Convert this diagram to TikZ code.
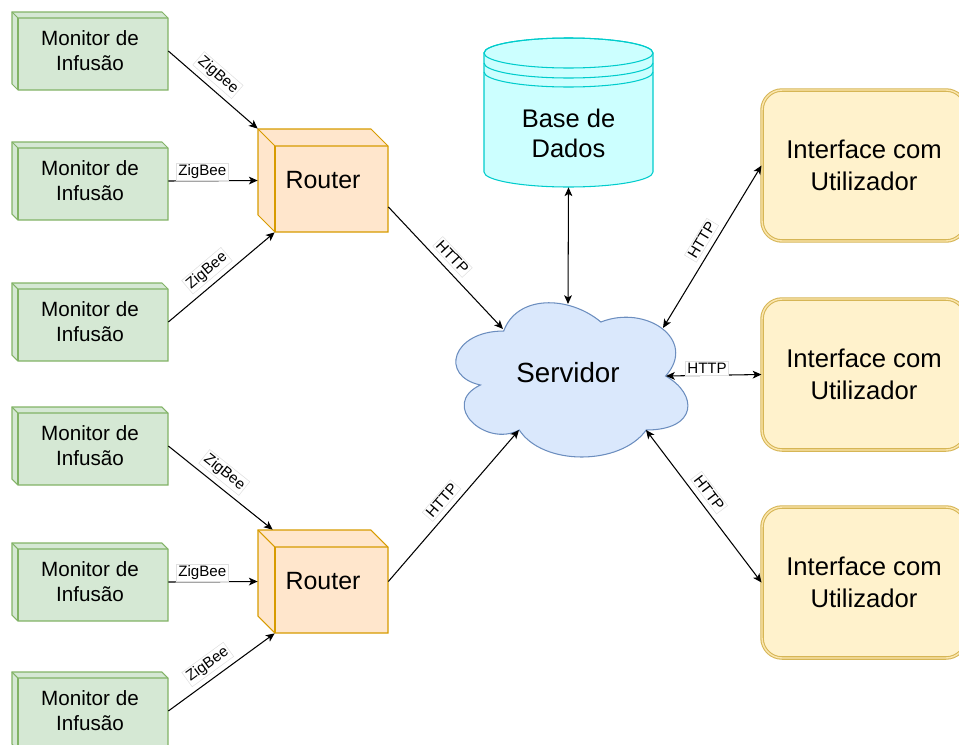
\documentclass[tikz,border=0pt]{standalone}
\usepackage{fontspec}
\setmainfont{Liberation Sans}
\usetikzlibrary{arrows.meta,calc}

\definecolor{monfill}{HTML}{D5E8D4}
\definecolor{monline}{HTML}{82B366}
\definecolor{rtfill}{HTML}{FFE6CC}
\definecolor{rtline}{HTML}{D79B00}
\definecolor{dbfill}{HTML}{CCFFFF}
\definecolor{dbline}{HTML}{00CCCC}
\definecolor{cldfill}{HTML}{DAE8FC}
\definecolor{cldline}{HTML}{6C8EBF}
\definecolor{uifill}{HTML}{FFF2CC}
\definecolor{uiline}{HTML}{D6B656}
\definecolor{uiinner}{HTML}{FBE6AE}

% 3D box: style, x1, y1, x2, y2, depth (outer corners in px)
\newcommand\boxcube[6]{%
  \draw[#1] (#2,#3) -- ({#4-#6},#3) -- (#4,{#3+#6}) -- (#4,#5) -- ({#2+#6},#5) -- (#2,{#5-#6}) -- cycle;
  \draw[#1,fill=none] (#2,#3) -- ({#2+#6},{#3+#6}) -- (#4,{#3+#6});
  \draw[#1,fill=none] ({#2+#6},{#3+#6}) -- ({#2+#6},#5);
}

\begin{document}
\begin{tikzpicture}[x=0.02cm,y=-0.02cm,
  mon/.style={fill=monfill,draw=monline,line width=0.6pt},
  rt/.style={fill=rtfill,draw=rtline,line width=0.6pt},
  montext/.style={minimum width=3.12cm,minimum height=1.56cm,inner sep=0pt,align=center,
    font=\fontsize{11.75}{14.2}\selectfont},
  rttext/.style={minimum width=2.6cm,minimum height=2.06cm,inner sep=0pt,
    font=\fontsize{14.2}{17}\selectfont},
  iface/.style={fill=uifill,draw=uiline,line width=0.6pt,double=uiinner,double distance=0.8pt,
    rounded corners=0.4cm,minimum width=4.08cm,minimum height=3.02cm,align=center,
    font=\fontsize{14.6}{18}\selectfont},
  lbl/.style={font=\fontsize{8.6}{10}\selectfont,fill=white,draw=black!12,line width=0.3pt,inner sep=1pt},
  conn/.style={-{Stealth[length=5pt,width=4.4pt,inset=1.3pt]},line width=0.6pt},
  bidir/.style={{Stealth[length=5pt,width=4.4pt,inset=1.3pt]}-{Stealth[length=5pt,width=4.4pt,inset=1.3pt]},line width=0.6pt}
]
\useasboundingbox (0,0) rectangle (959,744);

% infusion monitors
\foreach \i/\t in {1/12,2/142,3/283,4/407,5/543,6/672}{
  \boxcube{mon}{12}{\t}{168}{\t+78}{6}
  \node[montext] (m\i) at (90,\t+39) {Monitor de\\Infusão};
}

% routers
\boxcube{rt}{258}{129}{388}{232}{17}
\node[rttext] (r1) at (323,180.5) {Router};
\boxcube{rt}{258}{530}{388}{633}{17}
\node[rttext] (r2) at (323,581.5) {Router};

% database cylinder
\path[fill=dbfill,draw=dbline,line width=0.6pt] (484,53) -- (484,172)
  arc[start angle=180,end angle=0,x radius=84.5,y radius=15] -- (653,53)
  arc[start angle=0,end angle=-180,x radius=84.5,y radius=15] -- cycle;
\draw[dbline,line width=0.6pt] (568.5,53) ellipse[x radius=84.5,y radius=15];
\draw[dbline,line width=0.6pt] (484,63) arc[start angle=180,end angle=0,x radius=84.5,y radius=15];
\draw[dbline,line width=0.6pt] (484,72) arc[start angle=180,end angle=0,x radius=84.5,y radius=15];
\node[minimum width=3.38cm,minimum height=2.16cm,inner sep=0pt,align=center,
  font=\fontsize{14.5}{17}\selectfont] (db) at (568.5,133) {Base de\\Dados};

% server cloud
\draw[fill=cldfill,draw=cldline,line width=0.6pt]
  (503.75,331) .. controls (451.95,331) and (439,376) .. (480.4,385)
  .. controls (439,404.8) and (485.6,448) .. (519.3,430)
  .. controls (542.6,466) and (620.3,466) .. (646.2,430)
  .. controls (698,430) and (698,394) .. (665.6,376)
  .. controls (698,340) and (646.2,304) .. (600.9,322)
  .. controls (568.5,295) and (516.7,295) .. (503.75,331) -- cycle;
\node[font=\fontsize{15.8}{19}\selectfont] (srv) at (568,373) {Servidor};
\coordinate (srvN) at (568,304);
\coordinate (srvNW) at (503,329);
\coordinate (srvSW) at (519,430);
\coordinate (srvNE) at (663,328);
\coordinate (srvE) at (666,376);
\coordinate (srvSE) at (646,430);

% user interfaces
\node[iface] (i1) at (864,165.5) {Interface com\\Utilizador};
\node[iface] (i2) at (864,374.5) {Interface com\\Utilizador};
\node[iface] (i3) at (864,582.5) {Interface com\\Utilizador};

% ZigBee links
\draw[conn] (m1.east) -- node[lbl,sloped,above=3pt,pos=0.45] {ZigBee} (r1.north west);
\draw[conn] (m2.east) -- node[lbl,above=0pt,pos=0.38] {ZigBee} (r1.west);
\draw[conn] (m3.east) -- node[lbl,sloped,above=3pt,pos=0.45] {ZigBee} ($(r1.south west)+(17,0)$);
\draw[conn] (m4.east) -- node[lbl,sloped,above=3pt,pos=0.45] {ZigBee} ($(r2.north west)+(15,0)$);
\draw[conn] (m5.east) -- node[lbl,above=0pt,pos=0.38] {ZigBee} (r2.west);
\draw[conn] (m6.east) -- node[lbl,sloped,above=3pt,pos=0.45] {ZigBee} ($(r2.south west)+(17,0)$);

% HTTP links
\draw[conn] (r1.-22) -- node[lbl,sloped,above=3pt,pos=0.48] {HTTP} (srvNW);
\draw[conn] (r2.east) -- node[lbl,sloped,above=3pt,pos=0.48] {HTTP} (srvSW);
\draw[bidir] (db.south) -- (srvN);
\draw[bidir] (srvNE) -- node[lbl,sloped,above=3pt,pos=0.5] {HTTP} (i1.west);
\draw[bidir] (srvE) -- node[lbl,above=0pt,pos=0.43] {HTTP} (i2.west);
\draw[bidir] (srvSE) -- node[lbl,sloped,above=3pt,pos=0.46] {HTTP} (i3.west);
\end{tikzpicture}
\end{document}
